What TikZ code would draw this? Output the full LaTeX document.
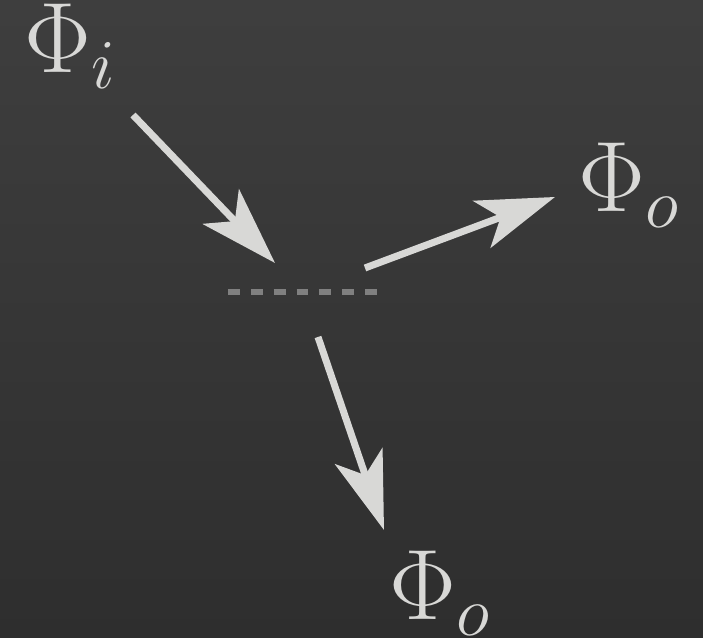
\RequirePackage{fix-cm}
\documentclass[tikz,border=0pt]{standalone}
\usepackage{amsmath}
\usepackage{tikz}
\usetikzlibrary{arrows.meta}
\definecolor{bgdark}{RGB}{52, 52, 52}
\definecolor{bgdarker}{RGB}{46, 46, 46}
\definecolor{raylight}{RGB}{216, 216, 214}
\definecolor{surfgray}{RGB}{128, 128, 128}
\tikzset{every path/.style={line join=miter}, >={Stealth[length=7.8mm, width=5mm, inset=2mm]}}

\begin{document}
\begin{tikzpicture}[
    flux/.style={
        text=raylight,
        font=\fontsize{28.5}{33}\selectfont,
        anchor=base west,
        inner sep=0pt
    },
    ray/.style={
        ->,
        draw=raylight,
        fill=raylight,
        line width=2pt
    },
    surface/.style={
        draw=surfgray,
        line width=1.8pt,
        dash pattern=on 3.4pt off 3.1pt
    }
]

% background
\shade[top color=bgdark!95!white, bottom color=bgdarker] (0,0) rectangle (7.03,6.38);
\useasboundingbox (0,0) rectangle (7.03,6.38);

\node[flux] (phiin) at (0.24,5.65) {$\Phi_i$};
\node[flux] (phiup) at (5.78,4.26) {$\Phi_o$};
\node[flux] (phidown) at (3.89,0.18) {$\Phi_o$};

\coordinate (inbeg) at (1.33,5.23);
\coordinate (inend) at (2.75,3.75);
\coordinate (upbeg) at (3.65,3.70);
\coordinate (upend) at (5.55,4.41);
\coordinate (downbeg) at (3.18,3.01);
\coordinate (downend) at (3.84,1.08);
\coordinate (surfl) at (2.28,3.46);
\coordinate (surfr) at (3.80,3.46);

\draw[surface] (surfl) -- (surfr);

\draw[ray] (inbeg) -- (inend);
\draw[ray] (upbeg) -- (upend);
\draw[ray] (downbeg) -- (downend);

\end{tikzpicture}
\end{document}
